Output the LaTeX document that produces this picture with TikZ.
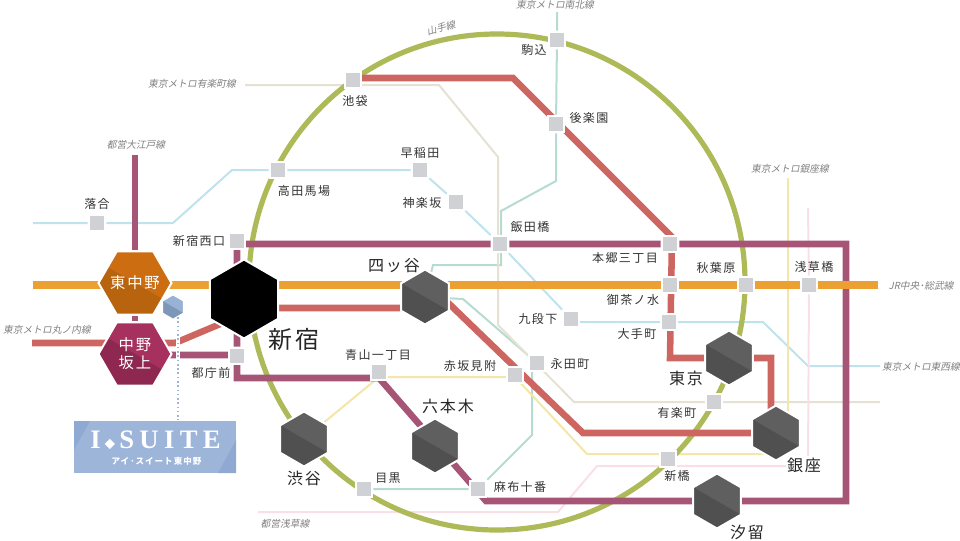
\documentclass[tikz,border=0pt]{standalone}
\usepackage{fontspec}
\setmainfont[LetterSpace=12]{Noto Sans CJK JP}
\newfontfamily\linefont[FakeSlant=0.2]{Noto Sans CJK JP}
\newfontfamily\suitefont[LetterSpace=20]{Liberation Serif}
\usepackage{xcolor}
\usepackage{tikz}
\usetikzlibrary{shapes.geometric, positioning, backgrounds}
\definecolor{orangeline}{HTML}{ECA032}
\definecolor{oedoline}{HTML}{A75576}
\definecolor{maruline}{HTML}{CD6560}
\definecolor{yamaline}{HTML}{AEBA58}
\definecolor{tozailine}{HTML}{BFE3EC}
\definecolor{nanbokuline}{HTML}{B5DBD3}
\definecolor{yurakuline}{HTML}{E5E1D3}
\definecolor{ginzaline}{HTML}{F3E6A8}
\definecolor{asakusaline}{HTML}{FBDFE6}
\definecolor{stationgray}{HTML}{D0D1D5}
\definecolor{suiteblue}{HTML}{9DB5D9}
\definecolor{suitecorner}{HTML}{8FA9D2}
\definecolor{suitehextop}{HTML}{98B2D6}
\definecolor{suitehexlow}{HTML}{7D97B8}
\definecolor{nakanotop}{HTML}{CC6D12}
\definecolor{nakanolow}{HTML}{B8630E}
\definecolor{sakauetop}{HTML}{A6305E}
\definecolor{sakauelow}{HTML}{8E2850}
\definecolor{hextop}{HTML}{5F5F5F}
\definecolor{hexlow}{HTML}{505050}

\begin{document}
\begin{tikzpicture}  [
        x = 0.75pt, y = -0.75pt,
        station/.style = {rectangle, fill=stationgray, draw=white, line width=1.5pt, inner sep=0pt, minimum size=12.5pt},
        hexagon/.style = {regular polygon, regular polygon sides=6, draw=white, line width=1.5pt, inner sep=0pt},
        halfshade/.style = {path picture={\fill[#1, shift={(path picture bounding box.center)}] (-70,-40.4) -- (70,40.4) -- (70,90) -- (-70,90) -- cycle;}},
        pointy/.style = {hexagon, shape border rotate=30, minimum size=41.25pt},
        grayhex/.style = {pointy, fill=hextop, halfshade=hexlow},
        hexlabel/.style = {inner sep=0pt, text=white, align=center, font=\fontsize{11.5}{13.5}\selectfont},
        stnlabel/.style = {inner sep=0pt, text=black!80, font=\fontsize{9}{11}\selectfont},
        biglabel/.style = {inner sep=0pt, text=black!85, font=\fontsize{12}{14}\selectfont},
        linelabel/.style = {inner sep=0pt, text=black!50, font=\linefont\fontsize{7.3}{9}\selectfont},
        thinline/.style = {line width=1.5pt},
        thickline/.style = {line width=4.9pt}
    ]

    \useasboundingbox (0,0) rectangle (960,540);

    \node[hexagon, minimum size=54.75pt, fill=nakanotop, halfshade=nakanolow] (higashinakano) at (135,283) {};
    \node[hexagon, minimum size=54.75pt, fill=sakauetop, halfshade=sakauelow] (nakanosakaue) at (135,354) {};
    \node[hexlabel] (lhigashinakano) at (135,283) {東中野};
    \node[hexlabel] (lnakanosakaue) at (135,354) {中野\\坂上};
    \node[pointy, minimum size=18pt, line width=0.6pt, fill=suitehextop, halfshade=suitehexlow] (suitehex) at (173,307) {};
    \node[pointy, minimum size=59.25pt, fill=black] (shinjuku) at (244,299) {};
    \node[grayhex] (yotsuya) at (425,297) {};
    \node[grayhex] (roppongi) at (435,446) {};
    \node[grayhex] (shibuya) at (304,439) {};
    \node[grayhex] (tokyo) at (729,358) {};
    \node[grayhex] (ginza) at (776,433) {};
    \node[grayhex] (shiodome) at (717,501) {};

    \node[station] (ochiai) at (97,223) {};
    \node[station] (takadanobaba) at (278,170) {};
    \node[station] (nishiguchi) at (237,241) {};
    \node[station] (tochomae) at (237,356) {};
    \node[station] (ikebukuro) at (353,80) {};
    \node[station] (komagome) at (557,40) {};
    \node[station] (korakuen) at (556,124) {};
    \node[station] (waseda) at (420,170) {};
    \node[station] (kagurazaka) at (456,202) {};
    \node[station] (iidabashi) at (500,244) {};
    \node[station] (kudanshita) at (571,319) {};
    \node[station] (nagatacho) at (537,363) {};
    \node[station] (akasaka) at (515,375) {};
    \node[station] (aoyama) at (379,372) {};
    \node[station] (azabu) at (478,489) {};
    \node[station] (meguro) at (364,489) {};
    \node[station] (hongo) at (670,244) {};
    \node[station] (ochanomizu) at (670,285) {};
    \node[station] (otemachi) at (669,322) {};
    \node[station] (akihabara) at (746,285) {};
    \node[station] (asakusabashi) at (809,285) {};
    \node[station] (yurakucho) at (714,402) {};
    \node[station] (shinbashi) at (668,459) {};

    \node[stnlabel] (lochiai) at (97,204) {落合};
    \node[stnlabel] (ltakadanobaba) at (304,191) {高田馬場};
    \node[stnlabel] (lnishiguchi) at (199,241) {新宿西口};
    \node[stnlabel] (ltochomae) at (211,373) {都庁前};
    \node[stnlabel] (likebukuro) at (355,101) {池袋};
    \node[stnlabel] (lkomagome) at (534,50) {駒込};
    \node[stnlabel] (lkorakuen) at (589,118) {後楽園};
    \node[stnlabel] (lwaseda) at (420,153) {早稲田};
    \node[stnlabel] (lkagurazaka) at (422,203) {神楽坂};
    \node[stnlabel] (liidabashi) at (530,227) {飯田橋};
    \node[stnlabel] (lhongo) at (625,258) {本郷三丁目};
    \node[stnlabel] (lkudanshita) at (538,319) {九段下};
    \node[stnlabel] (lnagatacho) at (570,364) {永田町};
    \node[stnlabel] (lakasaka) at (470,366) {赤坂見附};
    \node[stnlabel] (laoyama) at (378,355) {青山一丁目};
    \node[stnlabel] (lmeguro) at (388,478) {目黒};
    \node[stnlabel] (lazabu) at (520,487) {麻布十番};
    \node[stnlabel] (lochanomizu) at (633,300) {御茶ノ水};
    \node[stnlabel] (lotemachi) at (637,334) {大手町};
    \node[stnlabel] (lyurakucho) at (677,413) {有楽町};
    \node[stnlabel] (lshinbashi) at (677,476) {新橋};
    \node[stnlabel] (lakihabara) at (716,268) {秋葉原};
    \node[stnlabel] (lasakusabashi) at (814,267) {浅草橋};

    \node[biglabel, font=\fontsize{18}{20}\selectfont] (lshinjuku) at (294,339) {新宿};
    \node[biglabel] (lyotsuya) at (394,266) {四ッ谷};
    \node[biglabel] (lroppongi) at (448,406) {六本木};
    \node[biglabel] (lshibuya) at (304,478) {渋谷};
    \node[biglabel] (ltokyo) at (686,378) {東京};
    \node[biglabel, fill=white, inner sep=1pt] (lginza) at (804,465) {銀座};
    \node[biglabel] (lshiodome) at (747,532) {汐留};

    \node[linelabel] (loedo) at (136,145) {都営大江戸線};
    \node[linelabel] (lmarunouchi) at (47,330) {東京メトロ丸ノ内線};
    \node[linelabel] (lyurakuline) at (192,84) {東京メトロ有楽町線};
    \node[linelabel, rotate=15] (lyamanote) at (441,28) {山手線};
    \node[linelabel] (lnanboku) at (555,5) {東京メトロ南北線};
    \node[linelabel] (lchuo) at (921,286) {JR中央･総武線};
    \node[linelabel] (ltozai) at (921,367) {東京メトロ東西線};
    \node[linelabel] (lginzaline) at (790,169) {東京メトロ銀座線};
    \node[linelabel] (lasakusa) at (285,524) {都営浅草線};

    \node[rectangle, fill=suiteblue, inner sep=0pt, minimum width=121.5pt, minimum height=39pt, path picture={
        \fill[suitecorner, shift={(path picture bounding box.center)}] (-81,-26) -- (-65,-26) -- (-81,3) -- cycle;
        \fill[suitecorner, shift={(path picture bounding box.center)}] (63,26) -- (81,-7) -- (81,26) -- cycle;}] (suitebox) at (155,447) {};
    \node[inner sep=0pt, text=white, font=\suitefont\bfseries\fontsize{20}{22}\selectfont] (suitename) at (155.5,440) {I\hspace{3pt}{\fontsize{8}{8}\selectfont\rmfamily ◆}\hspace{3pt}SUITE};
    \node[inner sep=0pt, text=white, font=\bfseries\fontsize{6.4}{8}\selectfont] (suitekana) at (156.5,461) {アイ･スイート東中野};

    \coordinate (tozaiW) at (33,223);
    \coordinate (tozaiA) at (173,223);
    \coordinate (tozaiB) at (232,170);
    \coordinate (tozaiC) at (763,322);
    \coordinate (tozaiD) at (808,366);
    \coordinate (tozaiE) at (880,366);
    \coordinate (tozaiF) at (571,322);
    \coordinate (nanbokuN) at (557,12);
    \coordinate (nanbokuA) at (556,181);
    \coordinate (nanbokuB) at (501,211);
    \coordinate (nanbokuC) at (501,265);
    \coordinate (nanbokuD) at (433,265);
    \coordinate (nanbokuE) at (463,299);
    \coordinate (nanbokuF) at (532,435);
    \coordinate (nanbokuG) at (532,363);
    \coordinate (yurakuW) at (245,85);
    \coordinate (yurakuA) at (439,85);
    \coordinate (yurakuB) at (498,157);
    \coordinate (yurakuC) at (498,325);
    \coordinate (yurakuD) at (574,402);
    \coordinate (yurakuE) at (880,402);
    \coordinate (ginzaN) at (788,178);
    \coordinate (ginzaS) at (788,425);
    \coordinate (ginzaB) at (776,454);
    \coordinate (ginzaA) at (587,454);
    \coordinate (ginzaC) at (515,377);
    \coordinate (ginzaD) at (379,377);
    \coordinate (asakusaN) at (808,208);
    \coordinate (asakusaA) at (808,466);
    \coordinate (asakusaB) at (597,466);
    \coordinate (asakusaC) at (558,512);
    \coordinate (asakusaW) at (258,512);
    \coordinate (oedoN) at (135,155);
    \coordinate (oedoA) at (237,378);
    \coordinate (oedoB) at (379,378);
    \coordinate (oedoC) at (486,501);
    \coordinate (oedoD) at (846,501);
    \coordinate (oedoE) at (846,244);
    \coordinate (oedoS) at (237,299);
    \coordinate (oedoT) at (237,244);
    \coordinate (oedoU) at (237,355);
    \coordinate (oedoV) at (135,355);
    \coordinate (maruW) at (32,343);
    \coordinate (maruA) at (175,343);
    \coordinate (maruB) at (244,314);
    \coordinate (maruC) at (244,308);
    \coordinate (maruD) at (425,308);
    \coordinate (maruL) at (440,295);
    \coordinate (maruE) at (583,433);
    \coordinate (maruF) at (771,433);
    \coordinate (maruG) at (771,358);
    \coordinate (maruH) at (670,358);
    \coordinate (maruI) at (672,237);
    \coordinate (maruJ) at (513,78);
    \coordinate (maruK) at (353,78);
    \coordinate (chuoW) at (33,285);
    \coordinate (chuoE) at (878,285);
    \coordinate (yamanoteC) at (497,282);
    \coordinate (dotN) at (178,317);
    \coordinate (dotS) at (178,420);

    \begin{scope}[on background layer]
    \draw[thinline, tozailine] (tozaiW) -- (ochiai) -- (tozaiA) -- (tozaiB) -- (takadanobaba) -- (waseda) -- (kagurazaka) -- (iidabashi) -- (kudanshita);
    \draw[thinline, tozailine] (tozaiF) -- (tozaiC) -- (tozaiD) -- (tozaiE);
    \draw[thinline, nanbokuline] (nanbokuN) -- (komagome) -- (korakuen) -- (nanbokuA) -- (nanbokuB) -- (nanbokuC) -- (nanbokuD) -- (yotsuya);
    \draw[thinline, nanbokuline] (yotsuya) -- (nanbokuE) -- (nagatacho);
    \draw[thinline, nanbokuline] (nanbokuG) -- (nanbokuF) -- (azabu) -- (meguro);
    \draw[thinline, yurakuline] (yurakuW) -- (yurakuA) -- (yurakuB) -- (yurakuC) -- (yurakuD) -- (yurakuE);
    \draw[thinline, ginzaline] (ginzaN) -- (ginzaS);
    \draw[thinline, ginzaline] (ginzaB) -- (ginzaA) -- (ginzaC) -- (ginzaD) -- (shibuya);
    \draw[thinline, asakusaline] (asakusaN) -- (asakusabashi) -- (asakusaA) -- (asakusaB) -- (asakusaC) -- (asakusaW);
    \draw[line width=3.9pt, yamaline] (yamanoteC) circle (248);
    \draw[thickline, oedoline] (oedoN) -- (higashinakano) -- (nakanosakaue);
    \draw[thickline, oedoline] (oedoV) -- (oedoU) -- (oedoA) -- (oedoB) -- (oedoC) -- (oedoD) -- (oedoE) -- (hongo) -- (iidabashi) -- (oedoT) -- (oedoS) -- (tochomae);
    \draw[thickline, maruline] (maruW) -- (maruA) -- (maruB);
    \draw[thickline, maruline] (maruC) -- (maruD) -- (maruL) -- (maruE) -- (maruF) -- (maruG) -- (maruH) -- (maruI) -- (maruJ) -- (maruK);
    \draw[line width=6.4pt, orangeline] (chuoW) -- (chuoE);
    \draw[line width=3pt, white] (dotN) -- (dotS);
    \draw[line width=1.2pt, suiteblue, dotted] (dotN) -- (dotS);
    \end{scope}

\end{tikzpicture}
\end{document}
